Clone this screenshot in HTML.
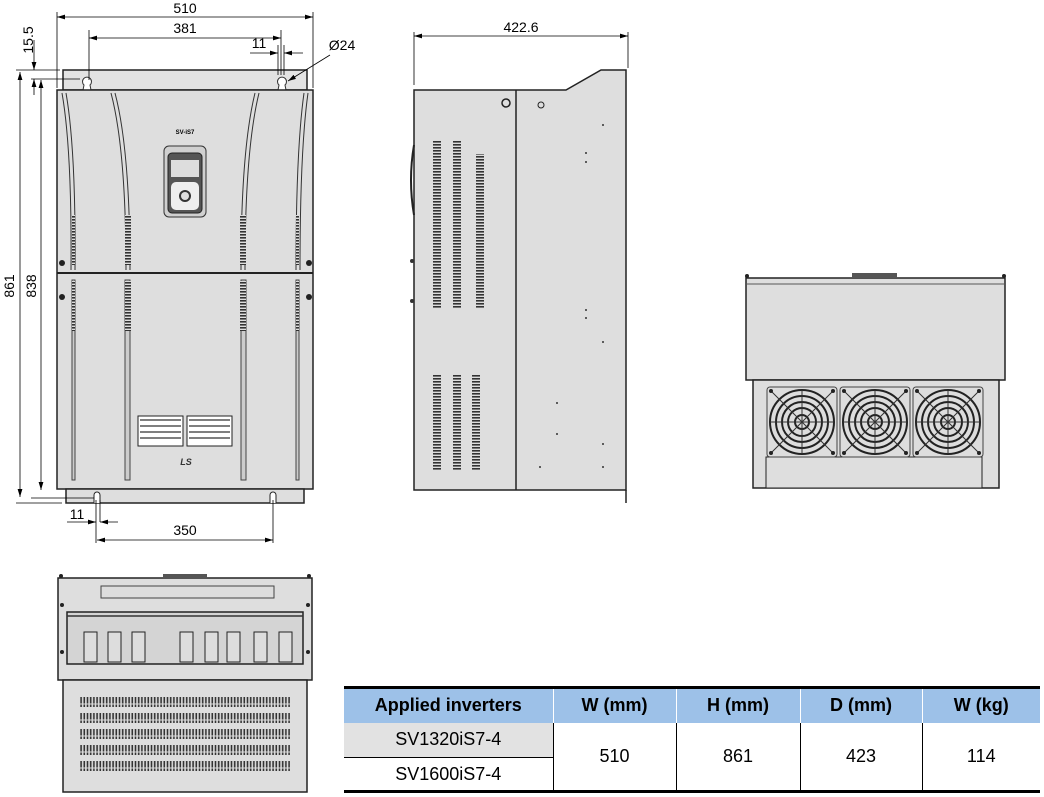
<!DOCTYPE html>
<html><head><meta charset="utf-8"><style>
html,body{margin:0;padding:0;background:#fff;}
svg{display:block;}
text{font-family:"Liberation Sans",sans-serif;}
</style></head><body>
<svg width="1044" height="797" viewBox="0 0 1044 797" xmlns="http://www.w3.org/2000/svg">
<defs>
<pattern id="vv" width="4" height="3" patternUnits="userSpaceOnUse"><rect width="4" height="3" fill="#ddd"/><rect x="0" y="0" width="4" height="1.6" fill="#333"/></pattern>
<pattern id="vh" width="3.2" height="8" patternUnits="userSpaceOnUse"><rect width="3.2" height="8" fill="#ddd"/><rect x="0.3" y="0.5" width="1.6" height="7" fill="#333"/></pattern>
<g id="fan">
<rect x="0" y="0" width="70" height="70" rx="3" fill="#ddd" stroke="#444"/>
<circle cx="35" cy="35" r="32" fill="none" stroke="#222" stroke-width="2"/>
<circle cx="35" cy="35" r="26" fill="none" stroke="#222" stroke-width="2"/>
<circle cx="35" cy="35" r="20" fill="none" stroke="#222" stroke-width="2"/>
<circle cx="35" cy="35" r="14" fill="none" stroke="#222" stroke-width="2"/>
<circle cx="35" cy="35" r="7" fill="none" stroke="#222" stroke-width="2"/>
<path d="M5 5L65 65M65 5L5 65M35 3V67M3 35H67" stroke="#333" stroke-width="1"/>
<circle cx="4" cy="4" r="2" fill="#222"/><circle cx="66" cy="4" r="2" fill="#222"/><circle cx="4" cy="66" r="2" fill="#222"/><circle cx="66" cy="66" r="2" fill="#222"/>
</g>
<marker id="a" viewBox="0 0 10 6" refX="10" refY="3" markerWidth="10" markerHeight="6" orient="auto-start-reverse"><path d="M0 0L10 3L0 6z" fill="#000"/></marker>
</defs>

<!-- FRONT VIEW -->
<rect x="63" y="70" width="244" height="20" fill="#e3e3e3" stroke="#222" stroke-width="1.5"/>
<path d="M83 90 L84 85 a4.5 4.5 0 1 1 6 0 L91 90" fill="#fff" stroke="#333"/>
<path d="M278 90 L279 85 a4.5 4.5 0 1 1 6 0 L286 90" fill="#fff" stroke="#333"/>
<rect x="57" y="90" width="256" height="399" fill="#dedede" stroke="#222" stroke-width="1.5"/>
<line x1="57" y1="273" x2="313" y2="273" stroke="#222" stroke-width="2"/>
<rect x="66" y="489" width="238" height="14" fill="#dedede" stroke="#222" stroke-width="1.5"/>
<path d="M94 503v-8a3 3 0 0 1 6 0v8" fill="#fff" stroke="#222"/>
<path d="M270 503v-8a3 3 0 0 1 6 0v8" fill="#fff" stroke="#222"/>
<g fill="none" stroke="#333" stroke-width="1">
<path d="M62 93 Q72 150 71 270"/><path d="M66 93 Q76 150 75 270"/>
<path d="M111 93 Q126 150 126 270"/><path d="M115 93 Q130 150 130 270"/>
<path d="M255 93 Q241 150 241 270"/><path d="M259 93 Q245 150 245 270"/>
<path d="M304 93 Q296 150 296 270"/><path d="M308 93 Q300 150 300 270"/>
</g>
<rect x="125" y="215" width="6" height="50" fill="url(#vv)"/>
<rect x="240" y="215" width="6" height="50" fill="url(#vv)"/>
<rect x="72" y="215" width="3" height="50" fill="url(#vv)"/>
<rect x="296" y="215" width="3" height="50" fill="url(#vv)"/>
<rect x="72" y="280" width="3" height="200" fill="#ccc" stroke="#444"/>
<rect x="125" y="280" width="5" height="200" fill="#ccc" stroke="#444"/>
<rect x="241" y="280" width="5" height="200" fill="#ccc" stroke="#444"/>
<rect x="296" y="280" width="3" height="200" fill="#ccc" stroke="#444"/>
<rect x="125" y="281" width="6" height="50" fill="url(#vv)"/>
<rect x="240" y="281" width="6" height="50" fill="url(#vv)"/>
<rect x="72" y="281" width="3" height="50" fill="url(#vv)"/>
<rect x="296" y="281" width="3" height="50" fill="url(#vv)"/>
<circle cx="62" cy="263" r="3" fill="#222"/><circle cx="309" cy="263" r="3" fill="#222"/>
<circle cx="62" cy="297" r="3" fill="#222"/><circle cx="309" cy="297" r="3" fill="#222"/>
<text x="185" y="134" font-size="6" font-weight="bold" text-anchor="middle">SV-iS7</text>
<rect x="164" y="146" width="42" height="71" rx="5" fill="#d0d0d0" stroke="#333"/>
<rect x="168" y="153" width="34" height="60" rx="4" fill="#555" stroke="#222"/>
<rect x="171" y="160" width="28" height="17" fill="#ddd"/>
<rect x="171" y="182" width="28" height="28" rx="5" fill="#eee"/>
<circle cx="185" cy="196" r="6" fill="#333"/><circle cx="185" cy="196" r="4" fill="#ddd"/>
<rect x="138" y="416" width="45" height="30" fill="#fff" stroke="#222"/>
<rect x="187" y="416" width="45" height="30" fill="#fff" stroke="#222"/>
<path d="M140 420h41M140 426h41M140 432h41M140 438h41M189 420h41M189 426h41M189 432h41M189 438h41" stroke="#555" stroke-width="1.5"/>
<text x="186" y="465" font-size="9" font-weight="bold" font-style="italic" text-anchor="middle" fill="#333">LS</text>

<g stroke="#000" stroke-width="0.8" fill="none">
<line x1="57" y1="12" x2="57" y2="88"/><line x1="313" y1="12" x2="313" y2="88"/>
<line x1="57" y1="17" x2="313" y2="17" marker-start="url(#a)" marker-end="url(#a)"/>
<line x1="89" y1="30" x2="89" y2="80"/><line x1="281" y1="30" x2="281" y2="75"/>
<line x1="89" y1="38" x2="281" y2="38" marker-start="url(#a)" marker-end="url(#a)"/>
<line x1="278" y1="45" x2="278" y2="75"/><line x1="284" y1="45" x2="284" y2="75"/>
<line x1="250" y1="53" x2="278" y2="53" marker-end="url(#a)"/><line x1="303" y1="53" x2="284" y2="53" marker-end="url(#a)"/>
<line x1="330" y1="55" x2="288" y2="81" marker-end="url(#a)"/>
<line x1="16" y1="70" x2="60" y2="70"/><line x1="31" y1="79" x2="80" y2="79"/>
<line x1="34" y1="40" x2="34" y2="70" marker-end="url(#a)"/><line x1="34" y1="95" x2="34" y2="79" marker-end="url(#a)"/>
<line x1="20" y1="72" x2="20" y2="497" marker-start="url(#a)" marker-end="url(#a)"/>
<line x1="41" y1="80" x2="41" y2="490" marker-start="url(#a)" marker-end="url(#a)"/>
<line x1="16" y1="503" x2="62" y2="503"/><line x1="31" y1="498" x2="94" y2="498"/>
<line x1="96" y1="500" x2="96" y2="543"/><line x1="100" y1="500" x2="100" y2="522"/>
<line x1="273" y1="500" x2="273" y2="543"/>
<line x1="67" y1="522" x2="96" y2="522" marker-end="url(#a)"/><line x1="118" y1="522" x2="100" y2="522" marker-end="url(#a)"/>
<line x1="97" y1="540" x2="273" y2="540" marker-start="url(#a)" marker-end="url(#a)"/>
</g>
<g font-size="14" text-anchor="middle">
<text x="185" y="13">510</text>
<text x="185" y="33">381</text>
<text x="259" y="48">11</text>
<text x="342" y="50">Ø24</text>
<text x="77" y="519">11</text>
<text x="185" y="535">350</text>
<text transform="translate(33,40) rotate(-90)">15.5</text>
<text transform="translate(14,286) rotate(-90)">861</text>
<text transform="translate(36,286) rotate(-90)">838</text>
</g>

<!-- SIDE VIEW -->
<line x1="414" y1="32" x2="414" y2="85" stroke="#000" stroke-width="0.8"/>
<line x1="628" y1="32" x2="628" y2="68" stroke="#000" stroke-width="0.8"/>
<line x1="414" y1="36" x2="628" y2="36" stroke="#000" stroke-width="0.8" marker-start="url(#a)" marker-end="url(#a)"/>
<text x="521" y="32" font-size="14" text-anchor="middle">422.6</text>
<path d="M414 90H566L601 70H626V490H414Z" fill="#dedede" stroke="#222" stroke-width="1.5"/>
<line x1="626" y1="490" x2="626" y2="503" stroke="#222" stroke-width="1.5"/>
<line x1="516" y1="90" x2="516" y2="490" stroke="#222" stroke-width="1.5"/>
<path d="M414 145Q408 180 414 215" fill="none" stroke="#222" stroke-width="2"/>
<circle cx="506" cy="103" r="4" fill="none" stroke="#222" stroke-width="1.5"/>
<circle cx="541" cy="105" r="3" fill="none" stroke="#222"/>
<rect x="433" y="140" width="8" height="169" fill="url(#vv)"/>
<rect x="453" y="140" width="8" height="169" fill="url(#vv)"/>
<rect x="476" y="154" width="8" height="155" fill="url(#vv)"/>
<rect x="433" y="375" width="8" height="95" fill="url(#vv)"/>
<rect x="453" y="375" width="8" height="95" fill="url(#vv)"/>
<rect x="472" y="375" width="8" height="95" fill="url(#vv)"/>
<g fill="#333"><circle cx="586" cy="153" r="1"/><circle cx="586" cy="162" r="1"/><circle cx="603" cy="125" r="1"/><circle cx="586" cy="310" r="1"/><circle cx="586" cy="318" r="1"/><circle cx="603" cy="342" r="1"/><circle cx="557" cy="403" r="1"/><circle cx="557" cy="434" r="1"/><circle cx="603" cy="444" r="1"/><circle cx="540" cy="467" r="1"/><circle cx="603" cy="467" r="1"/><circle cx="412" cy="261" r="2"/><circle cx="412" cy="301" r="2"/></g>

<!-- RIGHT VIEW -->
<rect x="746" y="278" width="259" height="102" fill="#dedede" stroke="#222" stroke-width="1.5"/>
<line x1="746" y1="284" x2="1005" y2="284" stroke="#555"/>
<rect x="852" y="273" width="45" height="5" fill="#555"/>
<circle cx="747" cy="276" r="2" fill="#222"/><circle cx="1004" cy="276" r="2" fill="#222"/>
<rect x="753" y="380" width="246" height="108" fill="#dedede" stroke="#222" stroke-width="1.5"/>
<rect x="766" y="457" width="216" height="31" fill="#dedede" stroke="#222"/>
<use href="#fan" x="767" y="387"/><use href="#fan" x="840" y="387"/><use href="#fan" x="913" y="387"/>

<!-- BOTTOM VIEW -->
<rect x="58" y="578" width="254" height="102" fill="#dedede" stroke="#222" stroke-width="1.5"/>
<rect x="163" y="574" width="44" height="5" fill="#555"/>
<rect x="101" y="586" width="173" height="12" fill="#ddd" stroke="#444"/>
<rect x="67" y="612" width="236" height="52" fill="#d4d4d4" stroke="#222" stroke-width="1.5"/>
<line x1="67" y1="616" x2="303" y2="616" stroke="#333" stroke-width="1.5"/>
<g fill="#ddd" stroke="#222">
<rect x="84" y="632" width="13" height="30"/><rect x="108" y="632" width="13" height="30"/><rect x="132" y="632" width="13" height="30"/>
<rect x="180" y="632" width="13" height="30"/><rect x="205" y="632" width="13" height="30"/>
<rect x="227" y="632" width="13" height="30"/><rect x="254" y="632" width="13" height="30"/><rect x="279" y="632" width="13" height="30"/>
</g>
<g fill="#222"><circle cx="61" cy="576" r="2"/><circle cx="309" cy="576" r="2"/><circle cx="62" cy="605" r="2"/><circle cx="308" cy="605" r="2"/><circle cx="62" cy="652" r="2"/><circle cx="308" cy="652" r="2"/><circle cx="69" cy="700" r="2.5"/><circle cx="301" cy="700" r="2.5"/><circle cx="69" cy="736" r="2.5"/><circle cx="301" cy="736" r="2.5"/><circle cx="69" cy="772" r="2.5"/><circle cx="301" cy="772" r="2.5"/></g>
<rect x="63" y="680" width="244" height="112" fill="#dedede" stroke="#222" stroke-width="1.5"/>
<rect x="80" y="697" width="210" height="10" fill="url(#vh)"/>
<rect x="80" y="713" width="210" height="10" fill="url(#vh)"/>
<rect x="80" y="729" width="210" height="10" fill="url(#vh)"/>
<rect x="80" y="745" width="210" height="10" fill="url(#vh)"/>
<rect x="80" y="761" width="210" height="10" fill="url(#vh)"/>
</svg>

<div style="position:absolute;left:344px;top:686px;width:696px;">
<table style="border-collapse:collapse;table-layout:fixed;width:696px;font-family:'Liberation Sans',sans-serif;font-size:18px;text-align:center;border-top:3px solid #000;border-bottom:3px solid #000;">
<colgroup><col style="width:209px"><col style="width:123px"><col style="width:124px"><col style="width:122px"><col style="width:118px"></colgroup>
<tr style="background:#9dc1e8;height:35px;font-weight:bold;">
<td style="border-right:1px solid #fff;">Applied inverters</td>
<td style="border-right:1px solid #fff;">W (mm)</td>
<td style="border-right:1px solid #fff;">H (mm)</td>
<td style="border-right:1px solid #fff;">D (mm)</td>
<td>W (kg)</td></tr>
<tr style="height:35px;"><td style="background:#e2e2e2;border-bottom:1px solid #000;">SV1320iS7-4</td>
<td rowspan="2" style="border-left:1px solid #000;">510</td><td rowspan="2" style="border-left:1px solid #000;">861</td><td rowspan="2" style="border-left:1px solid #000;">423</td><td rowspan="2" style="border-left:1px solid #000;">114</td></tr>
<tr style="height:34px;"><td>SV1600iS7-4</td></tr>
</table></div>
</body></html>
